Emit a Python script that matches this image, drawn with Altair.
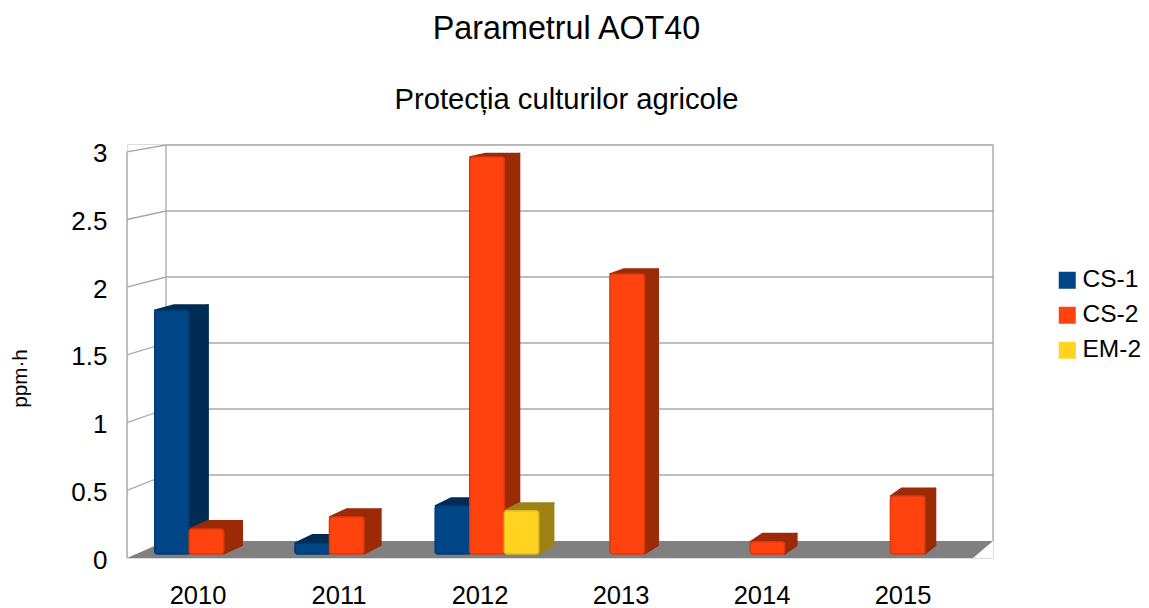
import altair as alt
import pandas as pd

YEARS = ["2010", "2011", "2012", "2013", "2014", "2015"]
SERIES = ["CS-1", "CS-2", "EM-2"]
CS1 = [1.81, 0.08, 0.357, None, None, None]
CS2 = [0.186, 0.275, 2.95, 2.08, 0.09, 0.43]
EM2 = [None, None, 0.32, None, None, None]
TICKS = [0, 0.5, 1, 1.5, 2, 2.5, 3]

FILL = ["#004586", "#ff420e", "#ffd320"]
EDGE = ["#003a70", "#d93a10", "#e0b91c"]
DARK = ["#002b54", "#9c2a07", "#9f8214"]
FONT = "Liberation Sans"

# Projection of the pseudo-3D box. Horizontal unit = one category slot (141 px);
# vertical unit = one value unit on the front plane (135.4 px).
SLOT, UNIT = 141.0, 135.4
PW, PH = 866, 414
D_FRONT, D_BACK = 0.24, 0.74
BAR = 34.7 / SLOT


def px(u, d):
    return u + d * (39 - 19 * u / 6) / SLOT


def py(v, d):
    return (17 * d + v * (UNIT - 3.4 * d)) / UNIT


lines = []
for t in TICKS:
    if t > 0:
        lines += [dict(id=f"b{t}", x=px(0, 1), y=py(t, 1)), dict(id=f"b{t}", x=px(6, 1), y=py(t, 1))]
        lines += [dict(id=f"s{t}", x=px(0, 0), y=py(t, 0)), dict(id=f"s{t}", x=px(0, 1), y=py(t, 1))]
for name, u, d in [("l", 0, 0), ("m", 0, 1), ("r", 6, 1)]:
    lines += [dict(id=name, x=px(u, d), y=py(0, d)), dict(id=name, x=px(u, d), y=py(3, d))]

floor = [dict(x=px(0, d), x2=px(6, d), y=py(0, d)) for d in (0, 1)]

front, side, top = [], [], []
for s, (name, vals) in enumerate(zip(SERIES, [CS1, CS2, EM2])):
    for i, v in enumerate(vals):
        if v is None:
            continue
        left = i + 0.5 + (s - 1.5) * BAR
        right = left + BAR
        key = f"{name}-{YEARS[i]}"
        front.append(dict(series=name, x=px(left, D_FRONT), x2=px(right, D_FRONT),
                          y=py(v, D_FRONT), y2=py(0, D_FRONT)))
        for d in (D_FRONT, D_BACK):
            side.append(dict(series=name, key=key, x=px(right, d), y=py(v, d), y2=py(0, d)))
            top.append(dict(series=name, key=key, x=px(left, d), x2=px(right, d), y=py(v, d)))

xs = alt.Scale(domain=[0, PW / SLOT], nice=False, zero=False)
ys = alt.Scale(domain=[0, PH / UNIT], nice=False, zero=False)
label_expr = "[" + ",".join(f"'{y}'" for y in YEARS) + "][floor(datum.value)]"

x_enc = alt.X("x:Q", scale=xs, axis=alt.Axis(
    values=[i + 0.5 for i in range(len(YEARS))], labelExpr=label_expr, title=None, domain=False,
    ticks=False, grid=False, labelFontSize=25.5, labelFont=FONT, labelColor="#000000",
    labelPadding=25, labelFlush=False, labelOverlap=False))
y_enc = alt.Y("y:Q", scale=ys, axis=alt.Axis(
    values=TICKS, format="~g", title="ppm·h", domain=False, ticks=False, grid=False, labelFontSize=26,
    labelFont=FONT, labelColor="#000000", labelPadding=20, labelOffset=2, titleFont=FONT,
    titleFontSize=20.7, titleFontWeight="normal", titleColor="#000000", titleX=-97, titleY=234,
    labelOverlap=False))

grid = alt.Chart(pd.DataFrame(lines)).mark_line(color="#a8a8a8", strokeWidth=1.3, clip=False).encode(
    x=x_enc, y=y_enc, detail="id:N", order=alt.Order("y:Q"))

floor_m = alt.Chart(pd.DataFrame(floor)).mark_area(orient="horizontal", color="#808080").encode(
    y=y_enc, x=x_enc, x2="x2:Q")

dark_fill = alt.Fill("series:N", scale=alt.Scale(domain=SERIES, range=DARK), legend=None)
dark_stroke = alt.Stroke("series:N", scale=alt.Scale(domain=SERIES, range=DARK), legend=None)

side_m = alt.Chart(pd.DataFrame(side)).mark_area(strokeWidth=1.5, strokeJoin="round").encode(
    x=x_enc, y=y_enc, y2="y2:Q", detail="key:N", fill=dark_fill, stroke=dark_stroke)

top_m = alt.Chart(pd.DataFrame(top)).mark_area(orient="horizontal", strokeWidth=1.5, strokeJoin="round").encode(
    y=y_enc, x=x_enc, x2="x2:Q", detail="key:N", fill=dark_fill, stroke=dark_stroke)

front_m = alt.Chart(pd.DataFrame(front)).mark_rect(cornerRadius=3, strokeWidth=1.5).encode(
    x=x_enc, x2="x2:Q", y=y_enc, y2="y2:Q",
    color=alt.Color("series:N", scale=alt.Scale(domain=SERIES, range=FILL), legend=alt.Legend(
        title=None, orient="none", legendX=928, legendY=124, symbolType="square", symbolSize=289,
        symbolStrokeWidth=0, labelFont=FONT, labelFontSize=24.5, labelColor="#000000",
        labelOffset=3, rowPadding=10, labelLimit=120)),
    stroke=alt.Stroke("series:N", scale=alt.Scale(domain=SERIES, range=EDGE), legend=None))

chart = (
    alt.layer(grid, floor_m, side_m, top_m, front_m)
    .resolve_scale(stroke="independent", fill="independent", color="independent")
    .properties(
        width=PW,
        height=PH,
        autosize=alt.AutoSizeParams(type="none"),
        padding={"left": 119, "top": 136, "right": 148, "bottom": 50},
        title=alt.TitleParams(
            text="Parametrul AOT40", subtitle="Protecția culturilor agricole", anchor="middle",
            dx=6.5, offset=26, font=FONT, fontSize=32.3, fontWeight="normal", color="#000000",
            subtitleFont=FONT, subtitleFontSize=29.2, subtitleColor="#000000", subtitlePadding=40),
    )
    .configure_view(stroke=None)
    .configure(background="#ffffff")
)

chart.save("out.html", embed_options={"renderer": "svg", "actions": False})
